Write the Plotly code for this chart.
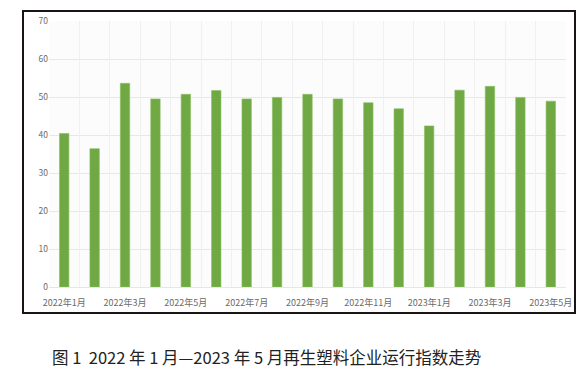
import plotly.graph_objects as go

months = ["2022年1月", "2022年2月", "2022年3月", "2022年4月", "2022年5月", "2022年6月",
          "2022年7月", "2022年8月", "2022年9月", "2022年10月", "2022年11月", "2022年12月",
          "2023年1月", "2023年2月", "2023年3月", "2023年4月", "2023年5月"]
index_values = [40.4, 36.4, 53.6, 49.5, 50.7, 51.7, 49.5, 49.9, 50.7, 49.5, 48.5, 46.9,
                42.4, 51.8, 52.8, 49.9, 48.9]
tick_labels = months[::2]
y_ticks = [0, 10, 20, 30, 40, 50, 60, 70]
title_text = "图 1  2022 年 1 月—2023 年 5 月再生塑料企业运行指数走势"

font_cjk = "Noto Sans CJK SC, Noto Sans, sans-serif"

fig = go.Figure()
fig.add_trace(go.Bar(x=months, y=index_values,
                     marker=dict(color="#70a844", line=dict(color="#8cc063", width=0.6)),
                     width=0.31, xaxis="x", yaxis="y"))
# invisible trace for category-boundary grid axis
fig.add_trace(go.Scatter(x=[0, 16], y=[0, 0], mode="markers", marker=dict(opacity=0),
                         xaxis="x2", yaxis="y", hoverinfo="skip", showlegend=False))

# page body has an 8px default margin, so the figure is sized to fit the window
fig.update_layout(
    width=577, height=367,
    margin=dict(l=41, r=19, t=13, b=88, autoexpand=False),
    paper_bgcolor="white",
    plot_bgcolor="#fcfcfc",
    showlegend=False,
    xaxis=dict(type="category", categoryorder="array", categoryarray=months,
               tickmode="array", tickvals=tick_labels, ticktext=tick_labels,
               showgrid=False, ticks="", range=[-0.5, 16.5], ticklabelstandoff=7,
               tickfont=dict(family=font_cjk, size=9, color="#6a6a6a"),
               showline=True, linecolor="#e6e6e6", linewidth=1, zeroline=False),
    xaxis2=dict(overlaying="x", range=[-0.5, 16.5], tickmode="linear", tick0=0.5, dtick=1,
                showgrid=True, gridcolor="#f0f0f0", gridwidth=1, showticklabels=False,
                ticks="", zeroline=False, layer="below traces"),
    yaxis=dict(range=[0, 70], tickvals=y_ticks, showgrid=True, gridcolor="#e8e8e8",
               gridwidth=1, zeroline=False, ticks="",
               tickfont=dict(family=font_cjk, size=8.5, color="#6a6a6a")),
    bargap=0.69,
)

fig.add_shape(type="rect", xref="paper", yref="paper",
              x0=-0.0503, x1=1.0174, y0=-0.0977, y1=1.0376,
              line=dict(color="#1a1414", width=2), fillcolor="rgba(0,0,0,0)", layer="above")

fig.add_annotation(text=title_text, xref="paper", yref="paper", x=0.4207, y=-0.265,
                   xanchor="center", yanchor="middle", showarrow=False,
                   font=dict(family=font_cjk, size=16.5, color="#222222"))

fig.write_html("out.html")
